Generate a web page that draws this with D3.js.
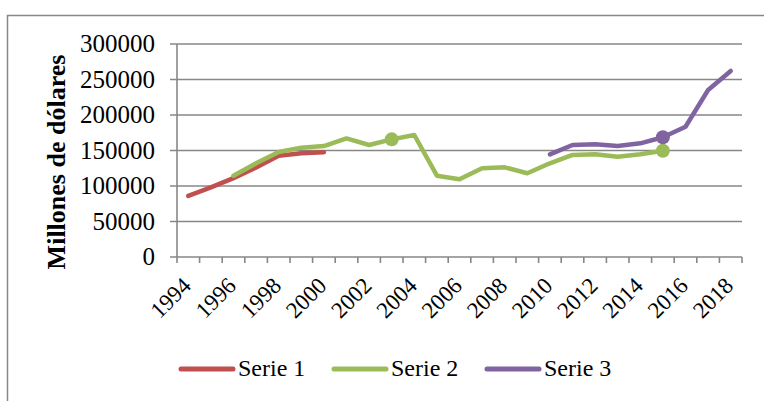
<!DOCTYPE html>
<html>
<head>
<meta charset="utf-8">
<script src="https://cdn.jsdelivr.net/npm/d3@7"></script>
<style>
  body { margin: 0; background: #fff; }
  svg { display: block; }
</style>
</head>
<body>
<script>
const width = 764;
const height = 401;

// categories (years)
const years = [1994, 1995, 1996, 1997, 1998, 1999, 2000, 2001, 2002, 2003, 2004, 2005, 2006,
  2007, 2008, 2009, 2010, 2011, 2012, 2013, 2014, 2015, 2016, 2017, 2018];

// series values, one per year (null = no data)
const serie1 = [86000, 98000, 111000, 126000, 142500, 146000, 147500, null, null, null, null, null, null,
  null, null, null, null, null, null, null, null, null, null, null, null];
const serie2 = [null, null, 114500, 132000, 148000, 154000, 156300, 167000, 157700, 165700, 171800, 114500, 109400,
  124900, 126300, 117900, 132000, 143700, 144600, 141300, 144600, 149700, null, null, null];
const serie3 = [null, null, null, null, null, null, null, null, null, null, null, null, null,
  null, null, null, 144600, 157700, 158700, 156300, 160100, 168600, 183500, 235200, 262000];

const seriesNames = ["Serie 1", "Serie 2", "Serie 3"];
const seriesColors = ["#C0504D", "#9BBB59", "#8064A2"];
const yTicks = [0, 50000, 100000, 150000, 200000, 250000, 300000];
const xLabels = [1994, 1996, 1998, 2000, 2002, 2004, 2006, 2008, 2010, 2012, 2014, 2016, 2018];
// single highlighted points: [series index, year]
const markers = [[1, 2003], [1, 2015], [2, 2015]];

const allSeries = [serie1, serie2, serie3];

const svg = d3.select("body").append("svg")
  .attr("width", width)
  .attr("height", height);

const gray = "#878787";
const font = "'Liberation Serif', 'Times New Roman', serif";

// outer chart frame (runs past the window on right/bottom)
svg.append("rect")
  .attr("x", 7.5).attr("y", 15.5)
  .attr("width", 820).attr("height", 420)
  .attr("fill", "none").attr("stroke", gray).attr("stroke-width", 1.5);

const x = d3.scaleBand().domain(years).range([177, 742]);
const y = d3.scaleLinear().domain([0, 300000]).range([257, 44]);
const cx = (yr) => x(yr) + x.bandwidth() / 2;

// gridlines
svg.append("g")
  .selectAll("line")
  .data(yTicks)
  .join("line")
  .attr("x1", 170).attr("x2", 742)
  .attr("y1", (d) => y(d)).attr("y2", (d) => y(d))
  .attr("stroke", gray).attr("stroke-width", 1.6);

// y axis line
svg.append("line")
  .attr("x1", 177).attr("x2", 177)
  .attr("y1", y(300000)).attr("y2", y(0))
  .attr("stroke", gray).attr("stroke-width", 1.6);

// x ticks between categories
const edges = years.map((d) => x(d)).concat([x.range()[1]]);
svg.append("g")
  .selectAll("line")
  .data(edges)
  .join("line")
  .attr("x1", (d) => d).attr("x2", (d) => d)
  .attr("y1", y(0)).attr("y2", y(0) + 6)
  .attr("stroke", gray).attr("stroke-width", 1.6);

// y tick labels
svg.append("g")
  .selectAll("text")
  .data(yTicks)
  .join("text")
  .attr("x", 155)
  .attr("y", (d) => y(d) + 8)
  .attr("text-anchor", "end")
  .style("font", `25px ${font}`)
  .attr("fill", "#000")
  .text((d) => d);

// x tick labels, rotated
svg.append("g")
  .selectAll("text")
  .data(xLabels)
  .join("text")
  .attr("text-anchor", "end")
  .attr("transform", (d) => `translate(${cx(d) + 4},${y(0) + 30}) rotate(-45)`)
  .style("font", `23px ${font}`)
  .attr("fill", "#000")
  .text((d) => d);

// y axis title
svg.append("text")
  .attr("transform", `translate(65,162) rotate(-90)`)
  .attr("text-anchor", "middle")
  .style("font", `bold 26px ${font}`)
  .attr("fill", "#000")
  .text("Millones de dólares");

// series lines
const line = d3.line()
  .defined((d) => d.v !== null)
  .x((d) => cx(d.yr))
  .y((d) => y(d.v));

allSeries.forEach((s, i) => {
  svg.append("path")
    .datum(years.map((yr, j) => ({ yr: yr, v: s[j] })))
    .attr("d", line)
    .attr("fill", "none")
    .attr("stroke", seriesColors[i])
    .attr("stroke-width", 4.5)
    .attr("stroke-linejoin", "round")
    .attr("stroke-linecap", "round");
});

// markers
svg.append("g")
  .selectAll("circle")
  .data(markers)
  .join("circle")
  .attr("cx", (d) => cx(d[1]))
  .attr("cy", (d) => y(allSeries[d[0]][years.indexOf(d[1])]))
  .attr("r", 7)
  .attr("fill", (d) => seriesColors[d[0]]);

// legend
const legendX = [181, 334, 487];
const legendY = 369;
const leg = svg.append("g")
  .selectAll("g")
  .data(seriesNames)
  .join("g")
  .attr("transform", (d, i) => `translate(${legendX[i]},${legendY})`);

leg.append("line")
  .attr("x1", 0).attr("x2", 52)
  .attr("stroke", (d, i) => seriesColors[i])
  .attr("stroke-width", 5)
  .attr("stroke-linecap", "round");

leg.append("text")
  .attr("x", 57).attr("y", 7)
  .style("font", `24px ${font}`)
  .attr("fill", "#000")
  .text((d) => d);
</script>
</body>
</html>
